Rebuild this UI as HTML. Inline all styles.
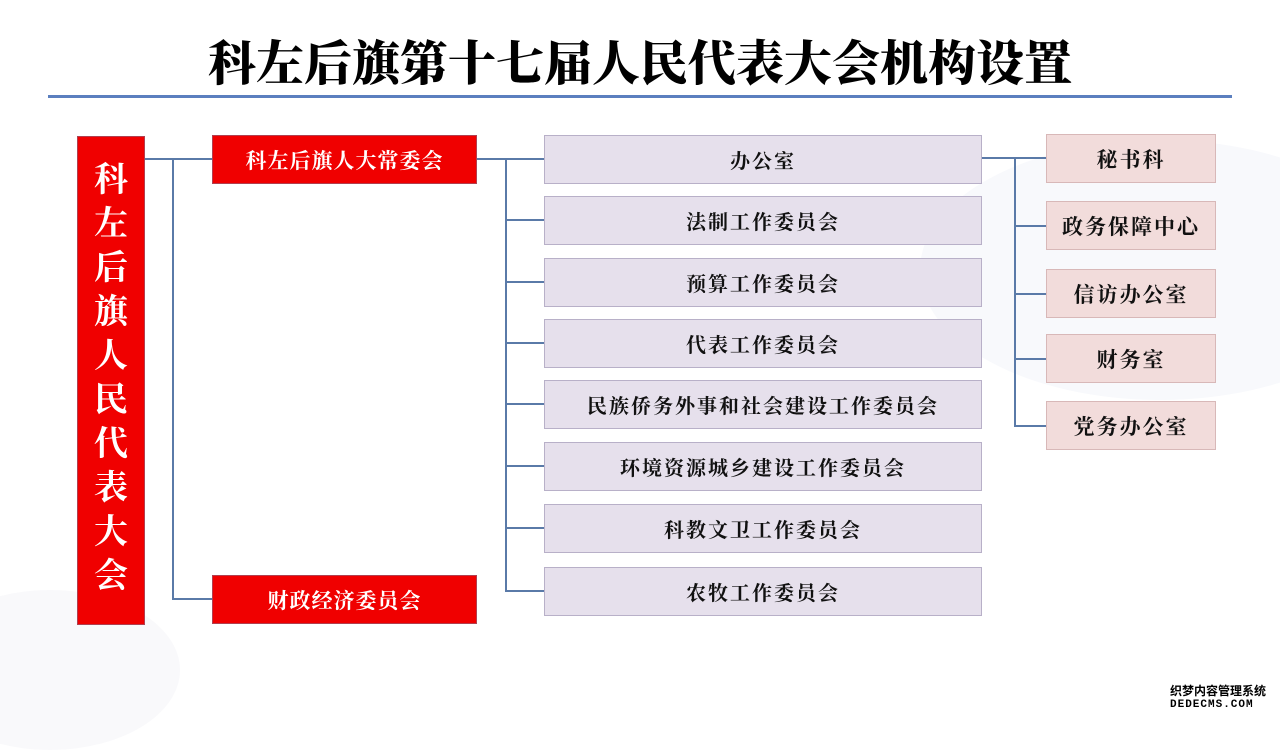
<!DOCTYPE html>
<html><head><meta charset="utf-8"><style>
body{margin:0;width:1280px;height:720px;background:#fff;position:relative;overflow:hidden;font-family:"Liberation Serif","Noto Serif CJK SC",serif;}
.a{position:absolute;box-sizing:border-box;}
.t{left:0;width:1280px;top:28px;text-align:center;font-size:48px;font-weight:900;letter-spacing:0px;line-height:64px;color:#000;font-family:"Noto Serif CJK SC",serif;}
.red{background:#f00000;border:1px solid #b04050;color:#fff;font-weight:bold;display:flex;align-items:center;justify-content:center;}
.mid{background:#e6e0ec;border:1px solid #b8b0c8;left:544px;width:438px;height:49px;display:flex;align-items:center;justify-content:center;font-size:20px;font-weight:bold;letter-spacing:2px;color:#111;}
.rt{background:#f2dcdb;border:1px solid #d8b8b8;left:1046px;width:170px;height:49px;display:flex;align-items:center;justify-content:center;font-size:21px;font-weight:bold;letter-spacing:2px;color:#111;}
.h{height:2px;background:#5a7aa8;}
.v{width:2px;background:#5a7aa8;}
.vc{position:absolute;left:77px;top:136px;width:68px;height:489px;background:#f00000;border:1px solid #b04050;box-sizing:border-box;color:#fff;font-weight:bold;font-size:34px;text-align:center;padding-top:22px;}
.vc div{height:44px;line-height:44px;}
</style></head><body>
<div class="a" style="right:-120px;top:140px;width:480px;height:260px;border-radius:50%;background:#f8f9fc;"></div>
<div class="a" style="left:-80px;top:590px;width:260px;height:160px;border-radius:50%;background:#f9f9fb;"></div>
<div class="a t">科左后旗第十七届人民代表大会机构设置</div>
<div class="a" style="left:48px;top:95px;width:1184px;height:3px;background:#5b7fbf;"></div>

<div class="vc"><div>科</div><div>左</div><div>后</div><div>旗</div><div>人</div><div>民</div><div>代</div><div>表</div><div>大</div><div>会</div></div>
<div class="a red" style="left:212px;top:135px;width:265px;height:49px;font-size:21px;letter-spacing:1px;">科左后旗人大常委会</div>
<div class="a red" style="left:212px;top:575px;width:265px;height:49px;font-size:21px;letter-spacing:1px;">财政经济委员会</div>

<div class="a h" style="left:145px;top:158px;width:67px;"></div>
<div class="a v" style="left:172px;top:158px;height:442px;"></div>
<div class="a h" style="left:172px;top:598px;width:40px;"></div>

<div class="a h" style="left:477px;top:158px;width:67px;"></div>
<div class="a v" style="left:505px;top:158px;height:434px;"></div>
<div class="a h" style="left:505px;top:219px;width:39px;"></div>
<div class="a h" style="left:505px;top:281px;width:39px;"></div>
<div class="a h" style="left:505px;top:342px;width:39px;"></div>
<div class="a h" style="left:505px;top:403px;width:39px;"></div>
<div class="a h" style="left:505px;top:465px;width:39px;"></div>
<div class="a h" style="left:505px;top:527px;width:39px;"></div>
<div class="a h" style="left:505px;top:590px;width:39px;"></div>

<div class="a mid" style="top:135px;">办公室</div>
<div class="a mid" style="top:196px;">法制工作委员会</div>
<div class="a mid" style="top:258px;">预算工作委员会</div>
<div class="a mid" style="top:319px;">代表工作委员会</div>
<div class="a mid" style="top:380px;">民族侨务外事和社会建设工作委员会</div>
<div class="a mid" style="top:442px;">环境资源城乡建设工作委员会</div>
<div class="a mid" style="top:504px;">科教文卫工作委员会</div>
<div class="a mid" style="top:567px;">农牧工作委员会</div>

<div class="a h" style="left:982px;top:157px;width:64px;"></div>
<div class="a v" style="left:1014px;top:157px;height:270px;"></div>
<div class="a h" style="left:1014px;top:225px;width:32px;"></div>
<div class="a h" style="left:1014px;top:293px;width:32px;"></div>
<div class="a h" style="left:1014px;top:358px;width:32px;"></div>
<div class="a h" style="left:1014px;top:425px;width:32px;"></div>

<div class="a rt" style="top:134px;">秘书科</div>
<div class="a rt" style="top:201px;">政务保障中心</div>
<div class="a rt" style="top:269px;">信访办公室</div>
<div class="a rt" style="top:334px;">财务室</div>
<div class="a rt" style="top:401px;">党务办公室</div>

<div class="a" style="left:1170px;top:684px;font-size:12px;font-weight:bold;color:#000;font-family:'Noto Sans CJK SC',sans-serif;line-height:14px;">织梦内容管理系统</div>
<div class="a" style="left:1170px;top:699px;font-size:11px;font-weight:bold;color:#000;font-family:'Liberation Mono',monospace;letter-spacing:1px;line-height:12px;">DEDECMS.COM</div>
</body></html>
